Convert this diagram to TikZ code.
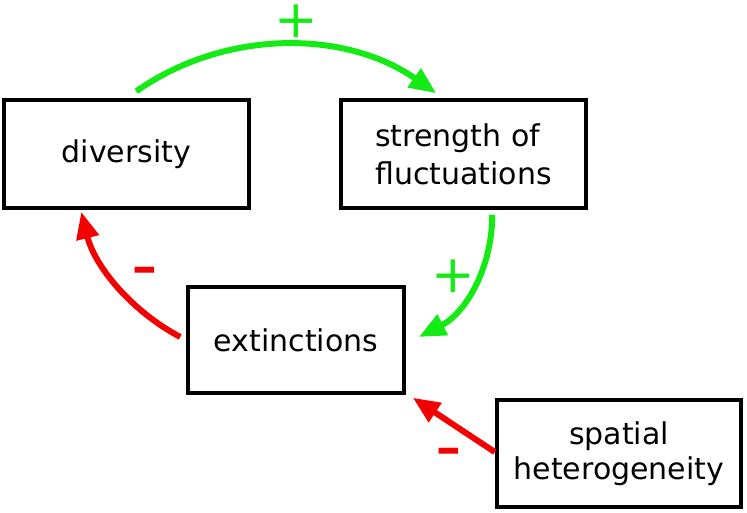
\documentclass[tikz,border=0pt]{standalone}
\usepackage{fontspec}
\setmainfont{DejaVu Sans}
\usetikzlibrary{arrows.meta,calc}
\definecolor{plusgreen}{RGB}{20,235,20}
\definecolor{minusred}{RGB}{245,0,0}
\begin{document}
\begin{tikzpicture}[x=1pt,y=-1pt,
  box/.style={draw=black,line width=3.5pt,inner sep=0pt,font=\fontsize{30}{37}\selectfont},
  link/.style={line width=6pt,-{Triangle[length=27pt,width=22pt]}},
  poslink/.style={link,color=plusgreen},
  neglink/.style={link,color=minusred},
  plussign/.style={text=plusgreen,inner sep=0pt,anchor=center,font=\fontsize{52}{52}\selectfont},
  minussign/.style={text=minusred,inner sep=0pt,anchor=base,font=\fontsize{74}{74}\selectfont}]
\useasboundingbox (0,0) rectangle (747,512);
\node[box,minimum width=245pt,minimum height=108pt] (div) at (126.5,154) {diversity};
\node[box,minimum width=245pt,minimum height=108pt,align=left,font=\fontsize{30}{38}\selectfont] (str) at (463.5,154) {strength of\\fluctuations};
\node[box,minimum width=216pt,minimum height=106pt] (ext) at (296,340) {extinctions};
\node[box,line width=4.5pt,minimum width=244pt,minimum height=107pt,align=center,font=\fontsize{30}{35}\selectfont] (spa) at (619,453.5) {spatial\\heterogeneity};
\coordinate (a1) at ($(div.north west)+(134,-7)$);
\coordinate (a2) at ($(str.north west)+(97,-5)$);
\coordinate (b1) at ($(str.south west)+(153,5)$);
\coordinate (b2) at ($(ext.east)+(13,-3)$);
\coordinate (c1) at ($(ext.west)+(-6,-3)$);
\coordinate (c2) at ($(div.south west)+(79,2)$);
\coordinate (d1) at ($(spa.west)+(0,-1.5)$);
\coordinate (d2) at ($(ext.south east)+(7,3)$);
\draw[poslink] (a1) .. controls +(90,-63) and +(-90,-63) .. (a2);
\draw[poslink] (b1) .. controls +(0,53) and +(47,-24) .. (b2);
\draw[neglink] (c1) .. controls +(-49.4,-26.3) and +(13.4,54.3) .. (c2);
\draw[neglink] (d1) -- (d2);
\node[plussign] (p1) at (296,21) {+};
\node[plussign] (p2) at (453.3,275.7) {+};
\node[minussign] (m1) at (145,290.4) {-};
\node[minussign] (m2) at (449,471.1) {-};
\end{tikzpicture}
\end{document}
